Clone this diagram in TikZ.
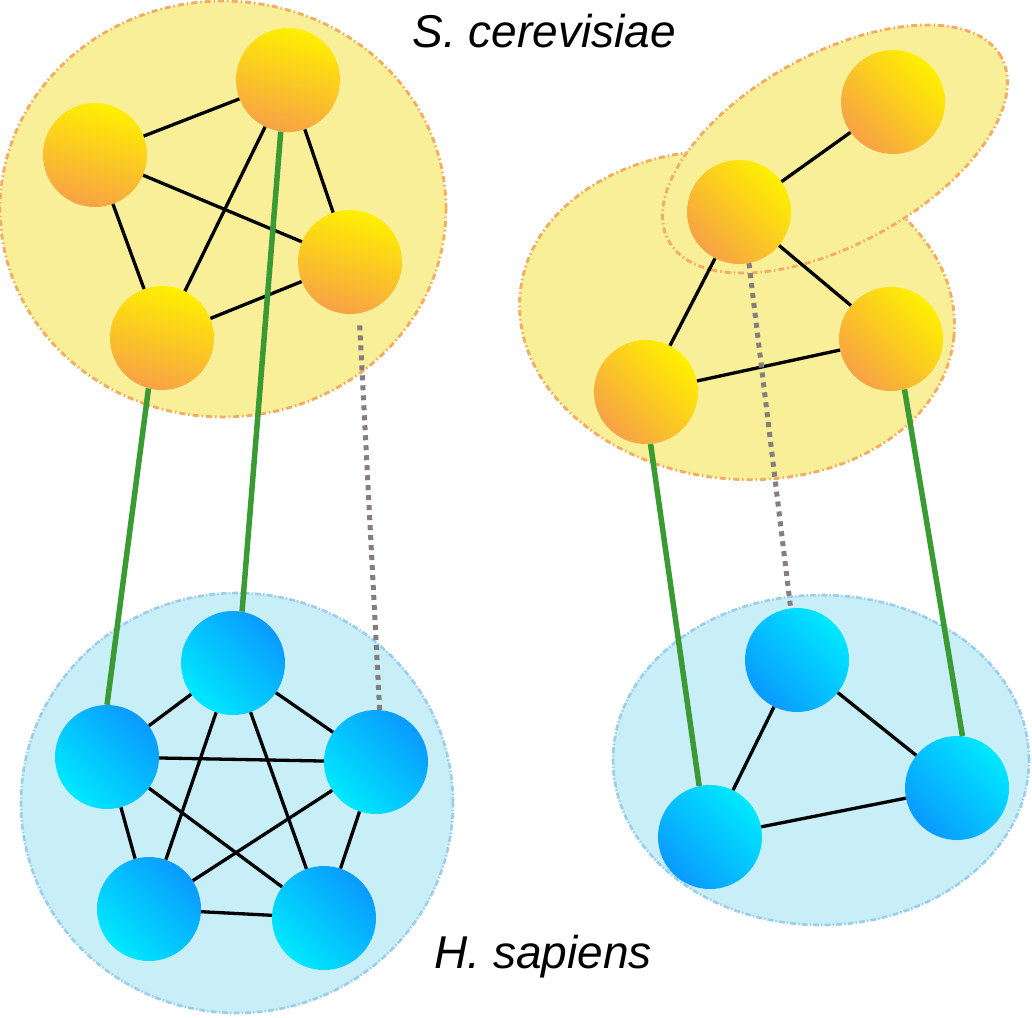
\documentclass[tikz,border=0pt]{standalone}
\usepackage{fontspec}
\setmainfont{Liberation Sans}
\usepackage{tikz}
\usetikzlibrary{shapes.geometric}
\definecolor{yeastfill}{RGB}{249,239,152}
\definecolor{yeastline}{RGB}{243,172,96}
\definecolor{humanfill}{RGB}{200,238,248}
\definecolor{humanline}{RGB}{155,206,236}
\definecolor{sunyellow}{RGB}{255,240,0}
\definecolor{sunmid}{RGB}{253,178,44}
\definecolor{sunorange}{RGB}{247,162,70}
\definecolor{skyblue}{RGB}{10,154,255}
\definecolor{skycyan}{RGB}{0,232,255}
\definecolor{orthogreen}{RGB}{58,154,52}
\definecolor{weakgray}{RGB}{134,126,126}
\tikzstyle{yeastbg} = [ellipse, inner sep=0pt, fill=yeastfill, draw=yeastline, line width=2.8pt, dash pattern=on 6pt off 3pt on 1.5pt off 3pt]
\tikzstyle{humanbg} = [ellipse, inner sep=0pt, fill=humanfill, draw=humanline, line width=2.6pt, dash pattern=on 6pt off 2pt on 1.5pt off 2pt]
\tikzstyle{protein} = [circle, inner sep=0pt, minimum size=104pt]
\tikzstyle{yeastL} = [protein, top color=sunyellow, middle color=sunmid, bottom color=sunorange, shading angle=-15]
\tikzstyle{yeastR} = [protein, top color=sunyellow, middle color=sunmid, bottom color=sunorange, shading angle=-45]
\tikzstyle{humanL} = [protein, top color=skyblue, bottom color=skycyan, shading angle=-45]
\tikzstyle{humanR} = [protein, top color=skycyan, bottom color=skyblue, shading angle=-45]
\tikzstyle{link} = [line width=3.3pt, black]
\tikzstyle{ortho} = [line width=5.5pt, orthogreen]
\tikzstyle{weak} = [line width=5pt, weakgray, dash pattern=on 5pt off 5pt]
\tikzstyle{species} = [anchor=base, inner sep=0pt, font=\fontsize{46}{52}\selectfont\itshape]

\begin{document}
\begin{tikzpicture}[x=1pt, y=-1pt]
		\useasboundingbox (0,0) rectangle (1032,1017);
		% complexes
		\node (YeastLeftBg) [yeastbg, minimum width=446pt, minimum height=416pt] at (223,209) {};
		\node (YeastRightBg) [yeastbg, minimum width=436pt, minimum height=328pt, rotate=-6] at (737,315) {};
		\node (YeastPairBg) [yeastbg, minimum width=380pt, minimum height=190pt, rotate=29] at (835,149) {};
		\node (HumanLeftBg) [humanbg, minimum width=432pt, minimum height=420pt] at (237,803) {};
		\node (HumanRightBg) [humanbg, minimum width=416pt, minimum height=330pt] at (821,760) {};
		% proteins
		\node (YeastA) [yeastL] at (95,155) {};
		\node (YeastB) [yeastL] at (288,80) {};
		\node (YeastC) [yeastL] at (350,262) {};
		\node (YeastD) [yeastL] at (162,338) {};
		\node (YeastE) [yeastR] at (893,102) {};
		\node (YeastF) [yeastR] at (739,212) {};
		\node (YeastG) [yeastR] at (891,339) {};
		\node (YeastH) [yeastR] at (646,392) {};
		\node (HumanA) [humanL] at (107,757) {};
		\node (HumanB) [humanL] at (233,663) {};
		\node (HumanC) [humanL] at (376,762) {};
		\node (HumanD) [humanL] at (149,909) {};
		\node (HumanE) [humanL] at (324,918) {};
		\node (HumanF) [humanR] at (797,660) {};
		\node (HumanG) [humanR] at (710,837) {};
		\node (HumanH) [humanR] at (957,788) {};
		\node (Yeast) [species] at (544,47) {S. cerevisiae};
		\node (Human) [species] at (543,968) {H. sapiens};
		% interactions
		\draw [link] (YeastA) -- (YeastB);
		\draw [link] (YeastA) -- (YeastC);
		\draw [link] (YeastA) -- (YeastD);
		\draw [link] (YeastB) -- (YeastC);
		\draw [link] (YeastB) -- (YeastD);
		\draw [link] (YeastC) -- (YeastD);
		\draw [link] (YeastE) -- (YeastF);
		\draw [link] (YeastF) -- (YeastG);
		\draw [link] (YeastF) -- (YeastH);
		\draw [link] (YeastG) -- (YeastH);
		\draw [link] (HumanA) -- (HumanB);
		\draw [link] (HumanA) -- (HumanC);
		\draw [link] (HumanA) -- (HumanD);
		\draw [link] (HumanA) -- (HumanE);
		\draw [link] (HumanB) -- (HumanC);
		\draw [link] (HumanB) -- (HumanD);
		\draw [link] (HumanB) -- (HumanE);
		\draw [link] (HumanC) -- (HumanD);
		\draw [link] (HumanC) -- (HumanE);
		\draw [link] (HumanD) -- (HumanE);
		\draw [link] (HumanF) -- (HumanG);
		\draw [link] (HumanF) -- (HumanH);
		\draw [link] (HumanG) -- (HumanH);
		% orthologs
		\draw [ortho] (YeastD.255) -- (HumanA.90);
		\draw [ortho] (YeastB.262) -- (HumanB.80);
		\draw [weak, shorten <=12pt] (YeastC.-80) -- (HumanC.86);
		\draw [ortho] (YeastH.-85) -- (HumanG.102);
		\draw [ortho] (YeastG.-75) -- (HumanH.84);
		\draw [weak] (YeastF.-79) -- (HumanF.97);
\end{tikzpicture}
\end{document}
